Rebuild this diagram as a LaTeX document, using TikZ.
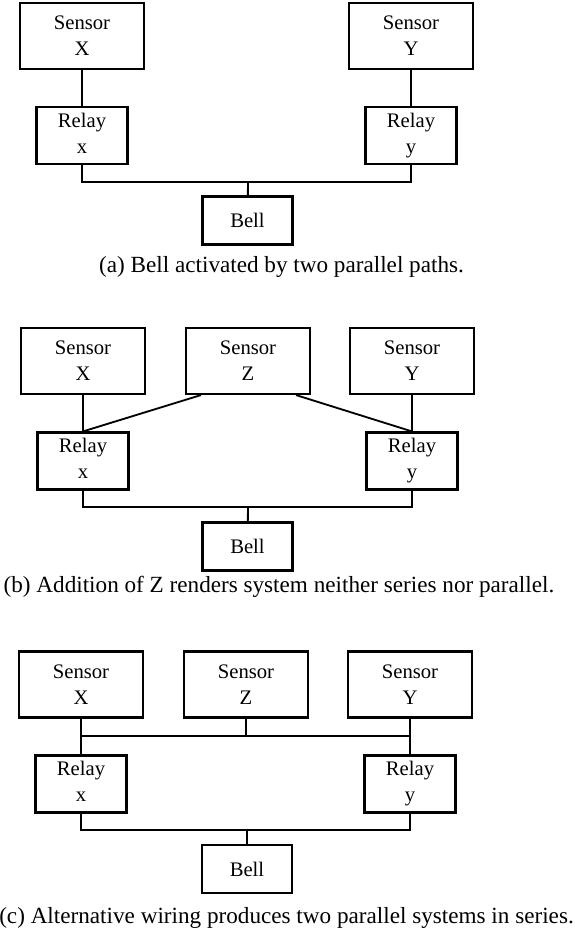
\documentclass[tikz,border=0pt]{standalone}
\usepackage{fontspec}
\setmainfont{Liberation Serif}
\usetikzlibrary{calc}

\begin{document}
\begin{tikzpicture}[x = 0.6pt, y = -0.6pt,
    font = \fontsize{12.4}{15.6}\selectfont,
    sensor/.style = {draw, line width = 1.3pt, minimum width = 74.4pt, minimum height = 39.6pt, inner sep = 0pt, align = center,
                     execute at begin node = {\rule{0pt}{12pt}}},
    relay/.style = {draw, line width = 1.3pt, minimum width = 54.6pt, minimum height = 34.2pt, inner sep = 0pt, align = center,
                    execute at begin node = {\rule{0pt}{11.2pt}}, execute at end node = {\vphantom{y}}},
    bell/.style = {draw, line width = 1.3pt, minimum width = 54pt, minimum height = 28.8pt, inner sep = 0pt},
    caption/.style = {font = \fontsize{13.9}{16}\selectfont},
    wire/.style = {line width = 1.1pt}]
      \useasboundingbox (0, 0) rectangle (575, 941);

      \node [sensor] (ax) at (82, 36) {Sensor\\X};
      \node [sensor] (ay) at (411, 36) {Sensor\\Y};
      \node [relay] (arx) at (82, 135.5) {Relay\\x};
      \node [relay] (ary) at (411, 135.5) {Relay\\y};
      \coordinate (abus) at (248, 182);
      \node [bell] (abell) at (247.5, 220.5) {Bell};
      \node [caption] (acap) at (281.5, 267) {(a) Bell activated by two parallel paths.};

      \node [sensor] (bx) at (83, 361) {Sensor\\X};
      \node [sensor] (bz) at (248, 361) {Sensor\\Z};
      \node [sensor] (by) at (412, 361) {Sensor\\Y};
      \node [relay] (brx) at (83, 461) {Relay\\x};
      \node [relay] (bry) at (412, 461) {Relay\\y};
      \coordinate (bbus) at (248, 507);
      \node [bell] (bbell) at (247.5, 546.5) {Bell};
      \node [caption] (bcap) at (279, 587) {(b) Addition of Z renders system neither series nor parallel.};
      \draw [wire] ($ (bz.south west) + (16, 0) $) -- (brx.north);
      \draw [wire] ($ (bz.south east) - (15, 0) $) -- (bry.north);

      \node [sensor] (cx) at (81, 684.5) {Sensor\\X};
      \node [sensor] (cz) at (246, 684.5) {Sensor\\Z};
      \node [sensor] (cy) at (410, 684.5) {Sensor\\Y};
      \node [relay] (crx) at (81, 784) {Relay\\x};
      \node [relay] (cry) at (410, 784) {Relay\\y};
      \coordinate (ctop) at (246, 736);
      \coordinate (cbus) at (247, 830);
      \node [bell] (cbell) at (247, 869) {Bell};
      \node [caption] (ccap) at (286.5, 918) {(c) Alternative wiring produces two parallel systems in series.};
      \draw [wire] (cz) -- (ctop);
      \draw [wire] (cx.south |- ctop) -- (cy.south |- ctop);

      \foreach \p in {a, b, c}
               {
                 \draw [wire] (\p x) -- (\p rx);
                 \draw [wire] (\p y) -- (\p ry);
                 \draw [wire] (\p rx.south) |- (\p bus) -| (\p ry.south);
                 \draw [wire] (\p bus) -- (\p bell);
               }
    \end{tikzpicture}
\end{document}
